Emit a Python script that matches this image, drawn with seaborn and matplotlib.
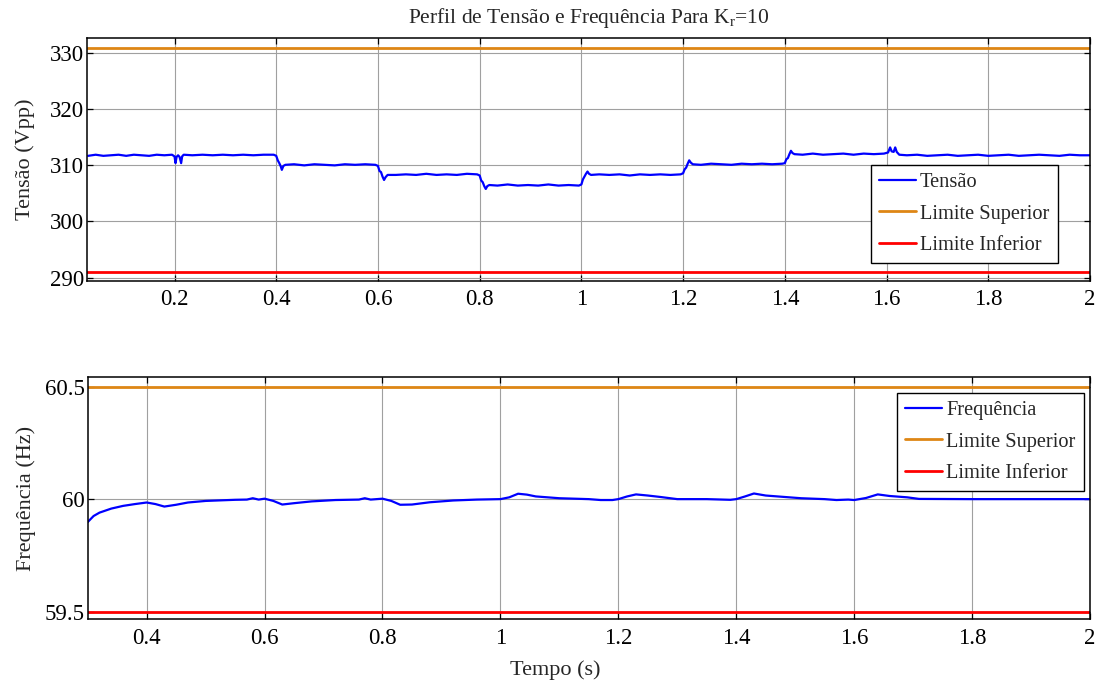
import matplotlib
matplotlib.use("Agg")
import matplotlib.pyplot as plt
import seaborn as sns
import pandas as pd

# ---- Tensão (Vpp) ----
t_tensao = [
    0.030, 0.045, 0.060, 0.075, 0.090, 0.105, 0.120, 0.135, 0.150, 0.165, 0.180, 0.195,
    0.200, 0.202, 0.204, 0.207, 0.210, 0.213, 0.215, 0.218,
    0.235, 0.255, 0.275, 0.295, 0.315, 0.335, 0.355, 0.375, 0.395,
    0.400, 0.403, 0.406, 0.409, 0.411, 0.414, 0.418,
    0.435, 0.455, 0.475, 0.495, 0.515, 0.535, 0.555, 0.575, 0.595,
    0.600, 0.603, 0.606, 0.609, 0.612, 0.615, 0.619,
    0.635, 0.655, 0.675, 0.695, 0.715, 0.735, 0.755, 0.775, 0.795,
    0.800, 0.803, 0.806, 0.809, 0.812, 0.815, 0.819,
    0.835, 0.855, 0.875, 0.895, 0.915, 0.935, 0.955, 0.975, 0.995,
    1.000, 1.003, 1.006, 1.009, 1.012, 1.015, 1.019,
    1.035, 1.055, 1.075, 1.095, 1.115, 1.135, 1.155, 1.175, 1.195,
    1.200, 1.203, 1.206, 1.209, 1.212, 1.215, 1.219,
    1.235, 1.255, 1.275, 1.295, 1.315, 1.335, 1.355, 1.375, 1.395,
    1.400, 1.403, 1.406, 1.409, 1.412, 1.415, 1.419,
    1.435, 1.455, 1.475, 1.495, 1.515, 1.535, 1.555, 1.575, 1.595,
    1.603, 1.607, 1.610, 1.614, 1.617, 1.620, 1.625,
    1.640, 1.660, 1.680, 1.700, 1.720, 1.740, 1.760, 1.780, 1.800,
    1.820, 1.840, 1.860, 1.880, 1.900, 1.920, 1.940, 1.960, 1.980, 2.000,
]
v_tensao = [
    311.7, 311.9, 311.7, 311.8, 311.9, 311.7, 311.9, 311.8, 311.7, 311.9, 311.8, 311.9,
    311.6, 310.4, 311.5, 311.8, 311.5, 310.4, 311.6, 311.9,
    311.8, 311.9, 311.8, 311.9, 311.8, 311.9, 311.8, 311.9, 311.9,
    311.7, 310.9, 310.4, 309.8, 309.2, 309.9, 310.1,
    310.2, 310.0, 310.2, 310.1, 310.0, 310.2, 310.1, 310.2, 310.1,
    309.9, 309.0, 308.8, 308.0, 307.4, 307.9, 308.3,
    308.3, 308.4, 308.3, 308.5, 308.3, 308.4, 308.3, 308.5, 308.4,
    308.2, 307.3, 307.0, 306.3, 305.8, 306.3, 306.5,
    306.4, 306.6, 306.4, 306.5, 306.4, 306.6, 306.4, 306.5, 306.4,
    306.6, 307.5, 308.0, 308.5, 308.9, 308.5, 308.3,
    308.4, 308.3, 308.4, 308.2, 308.4, 308.3, 308.4, 308.3, 308.4,
    308.6, 309.3, 309.6, 310.3, 310.9, 310.5, 310.2,
    310.1, 310.3, 310.2, 310.1, 310.3, 310.2, 310.3, 310.2, 310.3,
    310.4, 311.1, 311.3, 312.0, 312.6, 312.2, 312.0,
    311.9, 312.1, 311.9, 312.0, 312.1, 311.9, 312.1, 312.0, 312.1,
    312.3, 313.2, 312.5, 312.4, 313.2, 312.4, 311.9,
    311.8, 311.9, 311.7, 311.8, 311.9, 311.7, 311.8, 311.9, 311.7,
    311.8, 311.9, 311.7, 311.8, 311.9, 311.8, 311.7, 311.9, 311.8, 311.8,
]
tensao_lim_sup = 331.0
tensao_lim_inf = 291.0

# ---- Frequência (Hz) ----
t_freq = [
    0.30, 0.31, 0.32, 0.34, 0.36, 0.38, 0.40, 0.415, 0.43, 0.45, 0.47, 0.50,
    0.55, 0.57, 0.58, 0.59, 0.60, 0.615, 0.63, 0.65, 0.68, 0.72, 0.76, 0.77,
    0.78, 0.80, 0.815, 0.83, 0.85, 0.88, 0.92, 0.96, 1.00, 1.015, 1.03, 1.045,
    1.06, 1.08, 1.10, 1.15, 1.17, 1.19, 1.20, 1.215, 1.23, 1.25, 1.27, 1.30,
    1.35, 1.39, 1.40, 1.415, 1.43, 1.45, 1.48, 1.51, 1.55, 1.57, 1.59, 1.60,
    1.62, 1.64, 1.66, 1.69, 1.71, 1.80, 1.90, 2.00,
]
v_freq = [
    59.898, 59.925, 59.940, 59.958, 59.970, 59.978, 59.985, 59.978, 59.967, 59.975, 59.985, 59.992,
    59.997, 59.998, 60.004, 59.998, 60.002, 59.992, 59.976, 59.982, 59.990, 59.996, 59.998, 60.004,
    59.998, 60.002, 59.992, 59.975, 59.976, 59.986, 59.994, 59.998, 60.000, 60.008, 60.024, 60.020,
    60.012, 60.008, 60.004, 60.000, 59.996, 59.996, 60.000, 60.012, 60.021, 60.016, 60.010, 60.000,
    60.000, 59.997, 60.000, 60.012, 60.025, 60.016, 60.010, 60.004, 60.000, 59.996, 59.998, 59.996,
    60.005, 60.021, 60.014, 60.008, 60.001, 60.000, 60.000, 60.000,
]
freq_lim_sup = 60.5
freq_lim_inf = 59.5

x_ticks_top = [0.2, 0.4, 0.6, 0.8, 1.0, 1.2, 1.4, 1.6, 1.8, 2.0]
x_ticks_bot = [0.4, 0.6, 0.8, 1.0, 1.2, 1.4, 1.6, 1.8, 2.0]
x_ticklabels_top = ["0.2", "0.4", "0.6", "0.8", "1", "1.2", "1.4", "1.6", "1.8", "2"]
x_ticklabels_bot = ["0.4", "0.6", "0.8", "1", "1.2", "1.4", "1.6", "1.8", "2"]
y_ticks_top = [290, 300, 310, 320, 330]
y_ticks_bot = [59.5, 60.0, 60.5]
y_ticklabels_bot = ["59.5", "60", "60.5"]

BLUE = "#0000FF"
ORANGE = "#DE8615"
RED = "#FF0000"

sns.set_style("ticks")
plt.rcParams["font.family"] = ["Liberation Serif", "DejaVu Serif"]
plt.rcParams["mathtext.fontset"] = "custom"
plt.rcParams["mathtext.rm"] = "Liberation Serif"
plt.rcParams["mathtext.it"] = "Liberation Serif"

fig = plt.figure(figsize=(10.99, 6.87), dpi=100)
ax1 = fig.add_axes([0.0792, 0.591, 0.9126, 0.3537])
ax2 = fig.add_axes([0.0798, 0.0985, 0.912, 0.3532])

x0_top, x0_bot, x_end = 0.028, 0.3, 2.0

df_v = pd.DataFrame({"t": t_tensao, "v": v_tensao})
sns.lineplot(data=df_v, x="t", y="v", ax=ax1, color=BLUE, lw=1.6, label="Tensão")
sns.lineplot(x=[x0_top, x_end], y=[tensao_lim_sup] * 2, ax=ax1, color=ORANGE, lw=2.0,
             label="Limite Superior")
sns.lineplot(x=[x0_top, x_end], y=[tensao_lim_inf] * 2, ax=ax1, color=RED, lw=2.0,
             label="Limite Inferior")

df_f = pd.DataFrame({"t": t_freq, "f": v_freq})
sns.lineplot(data=df_f, x="t", y="f", ax=ax2, color=BLUE, lw=1.6, label="Frequência")
sns.lineplot(x=[x0_bot, x_end], y=[freq_lim_sup] * 2, ax=ax2, color=ORANGE, lw=2.0,
             label="Limite Superior")
sns.lineplot(x=[x0_bot, x_end], y=[freq_lim_inf] * 2, ax=ax2, color=RED, lw=2.0,
             label="Limite Inferior")

ax1.set_xlim(x0_top, x_end)
ax1.set_ylim(289.4, 332.7)
ax2.set_xlim(x0_bot, x_end)
ax2.set_ylim(59.466, 60.544)

ax1.set_xticks(x_ticks_top, x_ticklabels_top)
ax1.set_yticks(y_ticks_top, [str(v) for v in y_ticks_top])
ax2.set_xticks(x_ticks_bot, x_ticklabels_bot)
ax2.set_yticks(y_ticks_bot, y_ticklabels_bot)

for ax in (ax1, ax2):
    ax.grid(True, color="#a0a0a0", lw=0.8)
    ax.set_axisbelow(True)
    for s in ax.spines.values():
        s.set_visible(True)
        s.set_linewidth(1.1)
        s.set_color("black")
    ax.tick_params(direction="in", length=4, width=0.9, top=True, right=True,
                   labelsize=16.5, colors="black")
    ax.tick_params(axis="x", pad=6)
    ax.tick_params(axis="y", pad=2)
    ax.set_xlabel("")
    ax.set_ylabel("")

ax1.set_ylabel("Tensão (Vpp)", fontsize=16)
ax2.set_ylabel("Frequência (Hz)", fontsize=16)
ax1.yaxis.set_label_coords(-0.052, 0.5)
ax2.yaxis.set_label_coords(-0.052, 0.5)
ax2.set_xlabel("Tempo (s)", fontsize=16)
ax2.xaxis.set_label_coords(0.466, -0.17)

ax1.set_title("Perfil de Tensão e Frequência Para K$_{\\mathrm{r}}$=10", fontsize=15.5, pad=11)

leg_kw = dict(loc="upper left", fontsize=14.7, frameon=True, fancybox=False,
              edgecolor="black", framealpha=1.0, handlelength=1.8, handletextpad=0.2,
              labelspacing=0.58, borderpad=0.4, borderaxespad=0)
l1 = ax1.legend(bbox_to_anchor=(871 / 1099, 1 - 165 / 687), bbox_transform=fig.transFigure, **leg_kw)
l2 = ax2.legend(bbox_to_anchor=(897 / 1099, 1 - 393 / 687), bbox_transform=fig.transFigure, **leg_kw)
for lg in (l1, l2):
    lg.get_frame().set_linewidth(1.0)

fig.savefig("out.png", dpi=100)
